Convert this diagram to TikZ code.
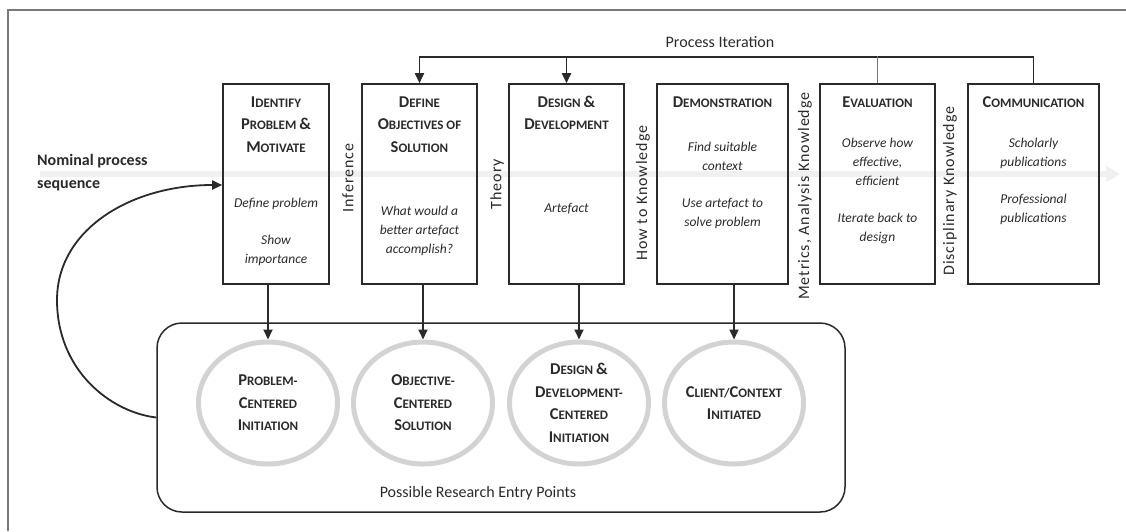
\documentclass[tikz,border=0pt]{standalone}
\usepackage{fontspec}
\setmainfont{Carlito}
\usetikzlibrary{arrows.meta,shapes.geometric}
\definecolor{ink}{HTML}{2A2A2A}
\definecolor{framegray}{HTML}{7A7A7A}
\definecolor{ringgray}{HTML}{D2D4D2}
\definecolor{iterblue}{HTML}{3F7FD8}
\definecolor{bandgray}{HTML}{F0F0F0}
\newcommand\Cap[2]{{\fontsize{16.5}{22.5}\selectfont #1}#2}
\begin{document}
\begin{tikzpicture}[x=1pt,y=-1pt,
  procbox/.style={draw=ink, line width=1.6pt, minimum width=#1, minimum height=200, inner sep=0},
  ttl/.style={font=\fontsize{13}{22.5}\selectfont\bfseries, text=ink, align=center, inner sep=0, anchor=base},
  bdy/.style={font=\fontsize{13.5}{19}\selectfont\itshape, text=ink, align=center, inner sep=0, anchor=base},
  vlab/.style={font=\fontsize{16}{18}\selectfont\addfontfeature{LetterSpace=6}, text=ink, rotate=90, inner sep=0},
  ringnode/.style={ellipse, draw=ringgray, line width=5pt, minimum width=139, minimum height=122, inner sep=0,
     font=\fontsize{13}{22.5}\selectfont\bfseries, text=ink, align=center},
  conn/.style={draw=ink, line width=1.8pt},
  arr/.style={conn, -{Triangle[length=10pt,width=9pt]}},
]
\useasboundingbox (0,0) rectangle (1126,531);
% outer frame
\draw[framegray, line width=2.5pt] (8,531) -- (8,10) -- (1126,10);
% faint nominal band
\draw[bandgray, line width=6pt, -{Triangle[length=14pt,width=16pt]}] (40,174) -- (1120,174);

% process boxes
\node[procbox=106] (b1) at (276,184) {};
\node[procbox=115] (b2) at (419.5,184) {};
\node[procbox=115] (b3) at (566.5,184) {};
\node[procbox=131] (b4) at (722.5,184) {};
\node[procbox=115] (b5) at (877.5,184) {};
\node[procbox=131] (b6) at (1033.5,184) {};

% titles (anchor = baseline of last line)
\node[ttl] (t1) at (276,152) {\Cap{I}{DENTIFY}\\\Cap{P}{ROBLEM} \Cap{\&}{}\\\Cap{M}{OTIVATE}};
\node[ttl] (t2) at (419.5,152) {\Cap{D}{EFINE}\\\Cap{O}{BJECTIVES} OF\\\Cap{S}{OLUTION}};
\node[ttl] (t3) at (566.5,129.5) {\Cap{D}{ESIGN} \Cap{\&}{}\\\Cap{D}{EVELOPMENT}};
\node[ttl] (t4) at (722.5,107) {\Cap{D}{EMONSTRATION}};
\node[ttl] (t5) at (877.5,107) {\Cap{E}{VALUATION}};
\node[ttl] (t6) at (1033.5,107) {\Cap{C}{OMMUNICATION}};

% bodies (anchor = baseline of last line)
\node[bdy] (p1) at (276,263) {Define problem\\[18pt]Show\\importance};
\node[bdy] (p2) at (419.5,253) {What would a\\better artefact\\accomplish?};
\node[bdy] (p3) at (566.5,212) {Artefact};
\node[bdy] (p4) at (722.5,226) {Find suitable\\context\\[18pt]Use artefact to\\solve problem};
\node[bdy] (p5) at (877.5,241) {Observe how\\effective,\\efficient\\[18pt]Iterate back to\\design};
\node[bdy] (p6) at (1033.5,222) {Scholarly\\publications\\[18pt]Professional\\publications};

% vertical knowledge labels
\node[vlab] (v1) at (348,178) {Inference};
\node[vlab] (v2) at (497,184) {Theory};
\node[vlab] (v3) at (643,193) {How to Knowledge};
\node[vlab] (v4) at (805,196) {Metrics, Analysis Knowledge};
\node[vlab] (v5) at (950,191) {Disciplinary Knowledge};

% process iteration
\coordinate (it) at (0,57);
\node[font=\fontsize{16}{18}\selectfont, text=ink] (pi) at (720,42) {Process Iteration};
\draw[arr] (b6.north) -- (b6.north |- it) -| (b2.north);
\draw[arr] (b3.north |- it) -- (b3.north);
\draw[iterblue, line width=1.5pt] (b5.north) -- ([yshift=1pt]b5.north |- it);

% entry points container
\node[draw=ink, line width=1.5pt, rounded corners=25pt, minimum width=688, minimum height=189] (rr) at (501,417.5) {};
\node[font=\fontsize{16}{18}\selectfont, text=ink, anchor=base, inner sep=0] (ep) at (478,497) {Possible Research Entry Points};

% entry point rings
\node[ringnode] (e1) at (268,403) {\Cap{P}{ROBLEM}-\\\Cap{C}{ENTERED}\\\Cap{I}{NITIATION}};
\node[ringnode] (e2) at (423,403) {\Cap{O}{BJECTIVE}-\\\Cap{C}{ENTERED}\\\Cap{S}{OLUTION}};
\node[ringnode] (e3) at (579,403) {\Cap{D}{ESIGN} \Cap{\&}{}\\\Cap{D}{EVELOPMENT}-\\\Cap{C}{ENTERED}\\\Cap{I}{NITIATION}};
\node[ringnode] (e4) at (734,403) {\Cap{C}{LIENT}/\Cap{C}{ONTEXT}\\\Cap{I}{NITIATED}};

\draw[arr] (e1.north |- b1.south) -- (e1.north);
\draw[arr] (e2.north |- b2.south) -- (e2.north);
\draw[arr] (e3.north |- b3.south) -- (e3.north);
\draw[arr] (e4.north |- b4.south) -- (e4.north);

% nominal process sequence
\node[font=\fontsize{16}{23}\selectfont\bfseries, text=ink, align=left, anchor=base west, inner sep=0] (nps) at (37,188) {Nominal process\\sequence};
\coordinate (entry) at (0,185);
\draw[arr] (rr.west) .. controls (110,412) and (57,370) .. (57,300) .. controls (57,230) and (130,185) .. (b1.west |- entry);
\end{tikzpicture}
\end{document}
